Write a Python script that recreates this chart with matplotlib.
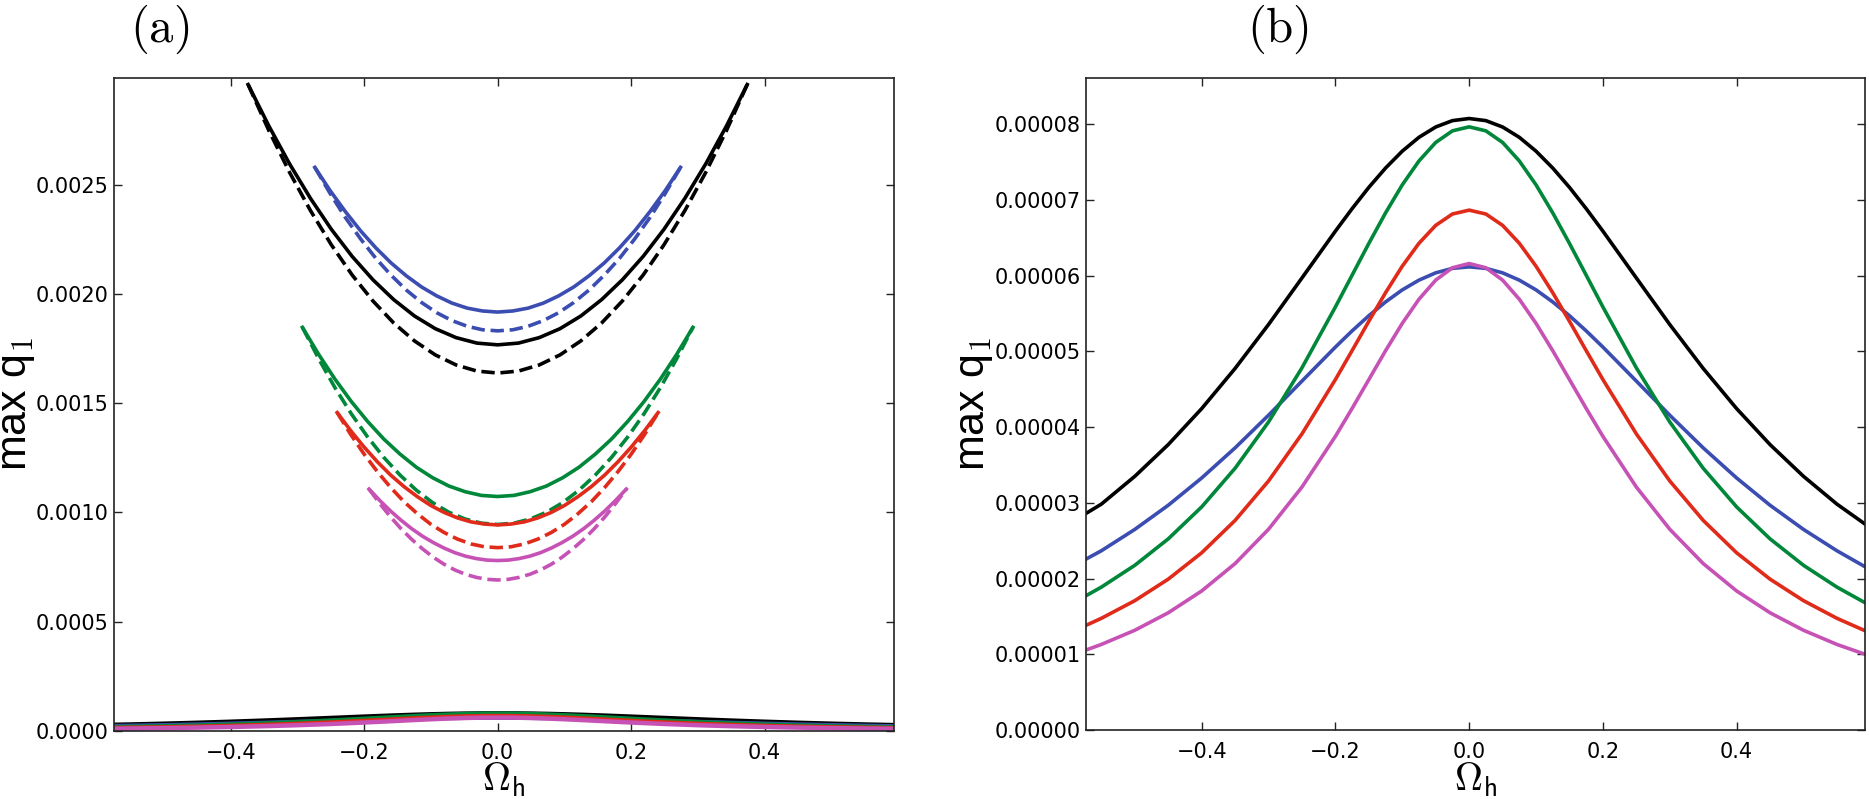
import matplotlib
matplotlib.use("Agg")
import matplotlib.pyplot as plt
from matplotlib.ticker import FormatStrFormatter

plt.rcParams['mathtext.fontset'] = 'cm'
plt.rcParams['axes.unicode_minus'] = True

# ---------------- data: panel (a) upper branches ----------------
a_black_x = [-0.374, -0.34283, -0.31167, -0.2805, -0.24933, -0.21817, -0.187, -0.15583, -0.12467, -0.0935, -0.06233, -0.03117, 0.0,
             0.03117, 0.06233, 0.0935, 0.12467, 0.15583, 0.187, 0.21817, 0.24933, 0.2805, 0.31167, 0.34283, 0.374]
a_black_solid = [0.002958, 0.002768, 0.002594, 0.002437, 0.002296, 0.002172, 0.002065, 0.001974, 0.001899, 0.001841, 0.001800, 0.001775, 0.001767,
                 0.001775, 0.001800, 0.001841, 0.001899, 0.001974, 0.002065, 0.002172, 0.002296, 0.002437, 0.002594, 0.002768, 0.002958]
a_black_dash = [0.002958, 0.002747, 0.002555, 0.002381, 0.002225, 0.002087, 0.001968, 0.001867, 0.001785, 0.001721, 0.001675, 0.001647, 0.001638,
                0.001647, 0.001675, 0.001721, 0.001785, 0.001867, 0.001968, 0.002087, 0.002225, 0.002381, 0.002555, 0.002747, 0.002958]

a_blue_x = [-0.274, -0.25117, -0.22833, -0.2055, -0.18267, -0.15983, -0.137, -0.11417, -0.09133, -0.0685, -0.04567, -0.02283, 0.0,
            0.02283, 0.04567, 0.0685, 0.09133, 0.11417, 0.137, 0.15983, 0.18267, 0.2055, 0.22833, 0.25117, 0.274]
a_blue_solid = [0.002579, 0.002473, 0.002377, 0.002289, 0.002211, 0.002142, 0.002083, 0.002032, 0.001991, 0.001958, 0.001935, 0.001922, 0.001917,
                0.001922, 0.001935, 0.001958, 0.001991, 0.002032, 0.002083, 0.002142, 0.002211, 0.002289, 0.002377, 0.002473, 0.002579]
a_blue_dash = [0.002579, 0.002460, 0.002350, 0.002252, 0.002163, 0.002086, 0.002018, 0.001961, 0.001914, 0.001878, 0.001852, 0.001836, 0.001831,
               0.001836, 0.001852, 0.001878, 0.001914, 0.001961, 0.002018, 0.002086, 0.002163, 0.002252, 0.002350, 0.002460, 0.002579]

a_green_x = [-0.2926, -0.26822, -0.24383, -0.21945, -0.19507, -0.17068, -0.1463, -0.12192, -0.09753, -0.07315, -0.04877, -0.02438, 0.0,
             0.02438, 0.04877, 0.07315, 0.09753, 0.12192, 0.1463, 0.17068, 0.19507, 0.21945, 0.24383, 0.26822, 0.2926]
a_green_solid = [0.001847, 0.001723, 0.001610, 0.001508, 0.001417, 0.001336, 0.001267, 0.001207, 0.001159, 0.001121, 0.001095, 0.001078, 0.001073,
                 0.001078, 0.001095, 0.001121, 0.001159, 0.001207, 0.001267, 0.001336, 0.001417, 0.001508, 0.001610, 0.001723, 0.001847]
a_green_dash = [0.001847, 0.001703, 0.001571, 0.001452, 0.001346, 0.001252, 0.001171, 0.001102, 0.001045, 0.001001, 0.000970, 0.000951, 0.000945,
                0.000951, 0.000970, 0.001001, 0.001045, 0.001102, 0.001171, 0.001252, 0.001346, 0.001452, 0.001571, 0.001703, 0.001847]

a_red_x = [-0.2405, -0.22046, -0.20042, -0.18038, -0.16033, -0.14029, -0.12025, -0.10021, -0.08017, -0.06013, -0.04008, -0.02004, 0.0,
           0.02004, 0.04008, 0.06013, 0.08017, 0.10021, 0.12025, 0.14029, 0.16033, 0.18038, 0.20042, 0.22046, 0.2405]
a_red_solid = [0.001457, 0.001375, 0.001300, 0.001232, 0.001171, 0.001118, 0.001072, 0.001032, 0.001000, 0.000975, 0.000957, 0.000947, 0.000943,
               0.000947, 0.000957, 0.000975, 0.001000, 0.001032, 0.001072, 0.001118, 0.001171, 0.001232, 0.001300, 0.001375, 0.001457]
a_red_dash = [0.001457, 0.001358, 0.001268, 0.001187, 0.001114, 0.001049, 0.000994, 0.000946, 0.000908, 0.000878, 0.000856, 0.000843, 0.000839,
              0.000843, 0.000856, 0.000878, 0.000908, 0.000946, 0.000994, 0.001049, 0.001114, 0.001187, 0.001268, 0.001358, 0.001457]

a_mag_x = [-0.1928, -0.17673, -0.16067, -0.1446, -0.12853, -0.11247, -0.0964, -0.08033, -0.06427, -0.0482, -0.03213, -0.01607, 0.0,
           0.01607, 0.03213, 0.0482, 0.06427, 0.08033, 0.0964, 0.11247, 0.12853, 0.1446, 0.16067, 0.17673, 0.1928]
a_mag_solid = [0.001107, 0.001055, 0.001007, 0.000964, 0.000925, 0.000891, 0.000862, 0.000837, 0.000816, 0.000800, 0.000789, 0.000782, 0.000780,
               0.000782, 0.000789, 0.000800, 0.000816, 0.000837, 0.000862, 0.000891, 0.000925, 0.000964, 0.001007, 0.001055, 0.001107]
a_mag_dash = [0.001107, 0.001041, 0.000980, 0.000925, 0.000876, 0.000833, 0.000795, 0.000763, 0.000737, 0.000717, 0.000703, 0.000694, 0.000691,
              0.000694, 0.000703, 0.000717, 0.000737, 0.000763, 0.000795, 0.000833, 0.000876, 0.000925, 0.000980, 0.001041, 0.001107]

# ---------------- data: lower branch (panel b, also bottom of panel a) ----------------
b_x = [-0.573, -0.55, -0.5, -0.45, -0.4, -0.35, -0.3, -0.25, -0.2, -0.175, -0.15, -0.125, -0.1, -0.075, -0.05, -0.025, 0.0,
       0.025, 0.05, 0.075, 0.1, 0.125, 0.15, 0.175, 0.2, 0.25, 0.3, 0.35, 0.4, 0.45, 0.5, 0.55, 0.592]
b_black = [2.860e-5, 2.983e-5, 3.350e-5, 3.769e-5, 4.244e-5, 4.775e-5, 5.355e-5, 5.970e-5, 6.588e-5, 6.885e-5, 7.166e-5, 7.421e-5,
           7.644e-5, 7.827e-5, 7.963e-5, 8.047e-5, 8.075e-5,
           8.047e-5, 7.963e-5, 7.827e-5, 7.644e-5, 7.421e-5, 7.166e-5, 6.885e-5, 6.588e-5, 5.970e-5, 5.355e-5, 4.775e-5,
           4.244e-5, 3.769e-5, 3.350e-5, 2.983e-5, 2.720e-5]
b_blue = [2.257e-5, 2.367e-5, 2.649e-5, 2.968e-5, 3.328e-5, 3.726e-5, 4.157e-5, 4.608e-5, 5.057e-5, 5.271e-5, 5.471e-5, 5.653e-5,
          5.812e-5, 5.941e-5, 6.037e-5, 6.096e-5, 6.116e-5,
          6.096e-5, 6.037e-5, 5.941e-5, 5.812e-5, 5.653e-5, 5.471e-5, 5.271e-5, 5.057e-5, 4.608e-5, 4.157e-5, 3.726e-5,
          3.328e-5, 2.968e-5, 2.649e-5, 2.367e-5, 2.156e-5]
b_green = [1.773e-5, 1.887e-5, 2.175e-5, 2.524e-5, 2.946e-5, 3.457e-5, 4.068e-5, 4.783e-5, 5.587e-5, 6.007e-5, 6.426e-5, 6.829e-5,
           7.199e-5, 7.515e-5, 7.759e-5, 7.912e-5, 7.965e-5,
           7.912e-5, 7.759e-5, 7.515e-5, 7.199e-5, 6.829e-5, 6.426e-5, 6.007e-5, 5.587e-5, 4.783e-5, 4.068e-5, 3.457e-5,
           2.946e-5, 2.524e-5, 2.175e-5, 1.887e-5, 1.681e-5]
b_red = [1.382e-5, 1.475e-5, 1.708e-5, 1.992e-5, 2.340e-5, 2.768e-5, 3.289e-5, 3.911e-5, 4.628e-5, 5.011e-5, 5.398e-5, 5.775e-5,
         6.125e-5, 6.428e-5, 6.664e-5, 6.814e-5, 6.865e-5,
         6.814e-5, 6.664e-5, 6.428e-5, 6.125e-5, 5.775e-5, 5.398e-5, 5.011e-5, 4.628e-5, 3.911e-5, 3.289e-5, 2.768e-5,
         2.340e-5, 1.992e-5, 1.708e-5, 1.475e-5, 1.311e-5]
b_mag = [1.056e-5, 1.130e-5, 1.317e-5, 1.548e-5, 1.836e-5, 2.198e-5, 2.651e-5, 3.209e-5, 3.878e-5, 4.247e-5, 4.628e-5, 5.009e-5,
         5.370e-5, 5.689e-5, 5.941e-5, 6.104e-5, 6.160e-5,
         6.104e-5, 5.941e-5, 5.689e-5, 5.370e-5, 5.009e-5, 4.628e-5, 4.247e-5, 3.878e-5, 3.209e-5, 2.651e-5, 2.198e-5,
         1.836e-5, 1.548e-5, 1.317e-5, 1.130e-5, 1.000e-5]

xticks = [-0.4, -0.2, 0.0, 0.2, 0.4]
a_yticks = [0.0, 0.0005, 0.0010, 0.0015, 0.0020, 0.0025]
b_yticks = [0.0, 1e-5, 2e-5, 3e-5, 4e-5, 5e-5, 6e-5, 7e-5, 8e-5]

C_BLACK = '#000000'
C_BLUE = '#3c4db1'
C_GREEN = '#00873a'
C_RED = '#e02a1a'
C_MAG = '#c652b6'

LW = 2.6

fig = plt.figure(figsize=(18.69, 7.99), dpi=100)
fig.patch.set_facecolor('white')

axA = fig.add_axes([114 / 1869, 68 / 799, 780 / 1869, 653 / 799])
axB = fig.add_axes([1086 / 1869, 69 / 799, 779 / 1869, 652 / 799])

upper = [
    (a_black_x, a_black_solid, a_black_dash, C_BLACK),
    (a_blue_x, a_blue_solid, a_blue_dash, C_BLUE),
    (a_green_x, a_green_solid, a_green_dash, C_GREEN),
    (a_red_x, a_red_solid, a_red_dash, C_RED),
    (a_mag_x, a_mag_solid, a_mag_dash, C_MAG),
]
for xs, ys, yd, c in upper:
    axA.plot(xs, ys, '-', color=c, lw=LW)
    axA.plot(xs, yd, '--', color=c, lw=LW)

lower = [(b_black, C_BLACK), (b_blue, C_BLUE), (b_green, C_GREEN), (b_red, C_RED), (b_mag, C_MAG)]
for ys, c in lower:
    axA.plot(b_x, ys, '-', color=c, lw=LW + 0.6)
    axB.plot(b_x, ys, '-', color=c, lw=LW)

axA.set_xlim(-0.575, 0.594)
axA.set_ylim(0.0, 0.002988)
axB.set_xlim(-0.573, 0.592)
axB.set_ylim(0.0, 0.0000861)

for ax in (axA, axB):
    ax.set_xticks(xticks)
    for s in ax.spines.values():
        s.set_linewidth(1.2)
        s.set_color('#222222')
    ax.tick_params(direction='in', top=True, right=True, length=6, width=1.0,
                   labelsize=15, color='#222222')
    ax.tick_params(axis='x', pad=8.5)
    ax.tick_params(axis='y', pad=4)
    ax.set_xticklabels([('\u2212%.1f' % -t) if t < 0 else ('%.1f' % t) for t in xticks])

axA.set_yticks(a_yticks)
axA.yaxis.set_major_formatter(FormatStrFormatter('%.4f'))
axB.set_yticks(b_yticks)
axB.yaxis.set_major_formatter(FormatStrFormatter('%.5f'))

ylab_font = dict(family=['Liberation Sans', 'DejaVu Sans'], fontsize=31)
axA.set_ylabel(r'max q$_{\mathsf{1}}$', **ylab_font)
axA.yaxis.set_label_coords(-0.0985, 0.5)
axB.set_ylabel(r'max q$_{\mathsf{1}}$', **ylab_font)
axB.yaxis.set_label_coords(-0.1165, 0.5)

for ax in (axA, axB):
    ax.set_xlabel(r'$\mathbf{\Omega}_{\mathsf{h}}$', fontsize=28, va='baseline')
axA.xaxis.set_label_coords(0.5, -0.0904)
axB.xaxis.set_label_coords(0.5, -0.092)

fig.text(160 / 1869, 0.9474, r'$\mathrm{(a)}$', ha='center', va='baseline', fontsize=35)
fig.text(1278 / 1869, 0.9474, r'$\mathrm{(b)}$', ha='center', va='baseline', fontsize=35)

fig.savefig('out.png', dpi=100, facecolor='white')
